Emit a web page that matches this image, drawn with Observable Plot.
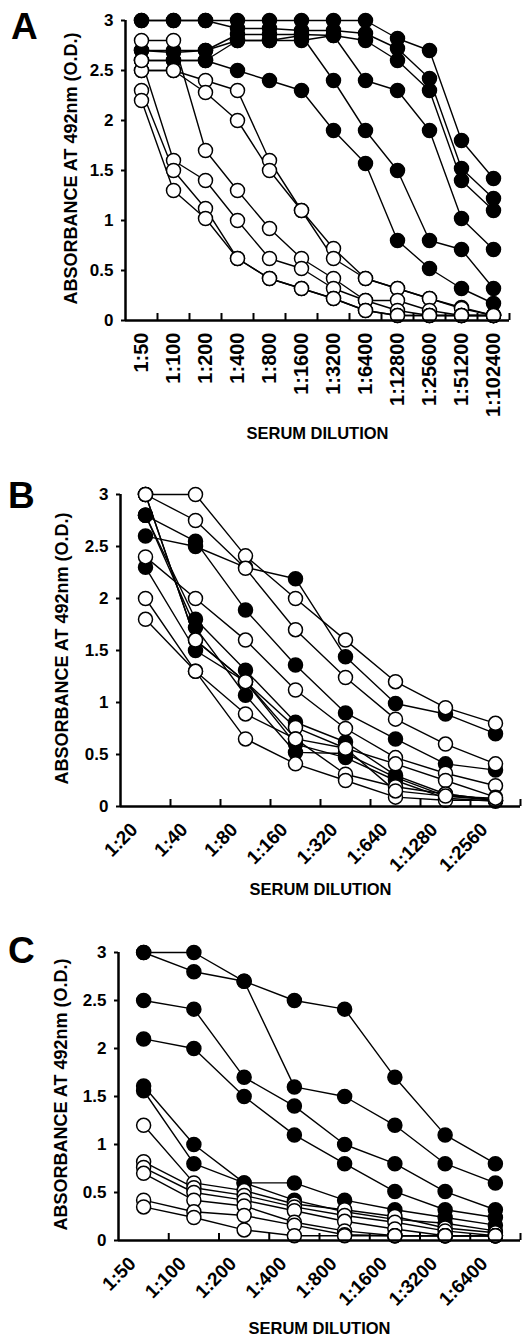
<!DOCTYPE html>
<html>
<head>
<meta charset="utf-8">
<script src="https://cdn.jsdelivr.net/npm/d3@7"></script>
<script src="https://cdn.jsdelivr.net/npm/@observablehq/plot@0.6"></script>
<style>
  html, body { margin: 0; padding: 0; background: #fff; overflow: hidden; }
  #wrap { position: relative; width: 522px; height: 1344px; font-family: "Liberation Sans", Arial, Helvetica, sans-serif; font-weight: bold; }
  .panel { position: absolute; left: 0; }
  .letter { position: absolute; font-size: 37px; font-weight: bold; line-height: 1; }
</style>
</head>
<body>
<div id="wrap"></div>
<script>
// ---------- Panel A ----------
const catsA = ["1:50","1:100","1:200","1:400","1:800","1:1600","1:3200","1:6400","1:12800","1:25600","1:51200","1:102400"];
const aFilled1 = [3.0, 3.0, 3.0, 3.0, 3.0, 3.0, 3.0, 3.0, 2.82, 2.7, 1.8, 1.42];
const aFilled2 = [3.0, 3.0, 3.0, 2.92, 2.92, 2.9, 2.9, 2.87, 2.72, 2.42, 1.52, 1.22];
const aFilled3 = [2.7, 2.7, 2.7, 2.86, 2.86, 2.86, 2.85, 2.8, 2.6, 2.3, 1.4, 1.1];
const aFilled4 = [2.7, 2.68, 2.7, 2.8, 2.8, 2.8, 2.85, 2.4, 2.3, 1.9, 1.02, 0.71];
const aFilled5 = [2.6, 2.6, 2.6, 2.8, 2.8, 2.85, 2.4, 1.9, 1.5, 0.8, 0.71, 0.32];
const aFilled6 = [2.6, 2.6, 2.6, 2.5, 2.4, 2.3, 1.9, 1.57, 0.8, 0.52, 0.32, 0.17];
const aOpen1 = [2.5, 2.5, 2.4, 2.3, 1.6, 1.1, 0.72, 0.42, 0.32, 0.22, 0.13, 0.05];
const aOpen2 = [2.5, 2.5, 2.28, 2.0, 1.5, 1.1, 0.62, 0.42, 0.32, 0.22, 0.12, 0.05];
const aOpen3 = [2.8, 2.8, 1.7, 1.3, 0.92, 0.62, 0.42, 0.2, 0.2, 0.1, 0.05, 0.05];
const aOpen4 = [2.6, 1.6, 1.4, 1.0, 0.62, 0.52, 0.32, 0.2, 0.1, 0.05, 0.05, 0.05];
const aOpen5 = [2.3, 1.5, 1.12, 0.62, 0.42, 0.32, 0.22, 0.1, 0.05, 0.05, 0.05, 0.05];
const aOpen6 = [2.2, 1.3, 1.02, 0.62, 0.42, 0.32, 0.22, 0.1, 0.05, 0.05, 0.05, 0.05];

// ---------- Panel B ----------
const catsB = ["1:20","1:40","1:80","1:160","1:320","1:640","1:1280","1:2560"];
const bFilled1 = [2.6, 2.5, 2.3, 2.19, 1.44, 0.99, 0.89, 0.70];
const bFilled2 = [2.8, 2.55, 1.89, 1.36, 0.90, 0.65, 0.41, 0.35];
const bFilled3 = [2.8, 1.8, 1.31, 0.81, 0.62, 0.30, 0.12, 0.06];
const bFilled4 = [2.8, 1.72, 1.07, 0.52, 0.51, 0.28, 0.1, 0.06];
const bFilled5 = [2.3, 1.5, 1.2, 0.6, 0.47, 0.25, 0.08, 0.05];
const bOpen1 = [3.0, 3.0, 2.41, 2.0, 1.6, 1.2, 0.95, 0.8];
const bOpen2 = [3.0, 2.75, 2.29, 1.7, 1.24, 0.84, 0.6, 0.41];
const bOpen3 = [2.4, 2.0, 1.6, 1.12, 0.75, 0.47, 0.32, 0.2];
const bOpen4 = [3.0, 1.6, 1.2, 0.76, 0.56, 0.41, 0.25, 0.09];
const bOpen5 = [2.0, 1.3, 0.89, 0.65, 0.31, 0.19, 0.12, 0.06];
const bOpen6 = [1.8, 1.3, 0.65, 0.41, 0.25, 0.09, 0.06, 0.06];
const bOpen7 = [3.0, 1.6, 1.2, 0.65, 0.56, 0.15, 0.1, 0.08];

// ---------- Panel C ----------
const catsC = ["1:50","1:100","1:200","1:400","1:800","1:1600","1:3200","1:6400"];
const cFilled1 = [3.0, 3.0, 2.7, 2.5, 2.41, 1.7, 1.1, 0.8];
const cFilled2 = [3.0, 2.8, 2.7, 1.6, 1.5, 1.2, 0.8, 0.6];
const cFilled3 = [2.5, 2.41, 1.7, 1.4, 1.0, 0.8, 0.51, 0.32];
const cFilled4 = [2.1, 2.0, 1.5, 1.1, 0.8, 0.51, 0.32, 0.24];
const cFilled5 = [1.61, 1.0, 0.6, 0.6, 0.42, 0.32, 0.24, 0.16];
const cFilled6 = [1.56, 0.8, 0.6, 0.42, 0.3, 0.22, 0.18, 0.1];
const cOpen1 = [1.2, 0.6, 0.52, 0.38, 0.32, 0.25, 0.13, 0.08];
const cOpen2 = [0.82, 0.55, 0.47, 0.35, 0.26, 0.19, 0.1, 0.05];
const cOpen3 = [0.76, 0.5, 0.42, 0.31, 0.2, 0.12, 0.05, 0.05];
const cOpen4 = [0.7, 0.42, 0.36, 0.19, 0.1, 0.05, 0.05, 0.05];
const cOpen5 = [0.42, 0.3, 0.26, 0.16, 0.06, 0.05, 0.05, 0.05];
const cOpen6 = [0.35, 0.24, 0.11, 0.05, 0.05, 0.05, 0.05, 0.05];

const yTicks = [0, 0.5, 1, 1.5, 2, 2.5, 3];
const yTitle = "ABSORBANCE AT 492nm (O.D.)";
const xTitle = "SERUM DILUTION";
const FONT = '"Liberation Sans", Arial, Helvetica, sans-serif';

function toRows(filled, open) {
  const out = [];
  filled.forEach((s, k) => s.forEach((v, i) => out.push({i, v, s: "f" + k, filled: true})));
  open.forEach((s, k) => s.forEach((v, i) => out.push({i, v, s: "o" + k, filled: false})));
  return out;
}

function panel(o) {
  const data = toRows(o.filled, o.open);
  const n = o.cats.length;
  const centers = d3.range(n).map(i => i + 0.5);
  const bounds = d3.range(1, n + 1);
  const xp = d => d.i + 0.5;
  return Plot.plot({
    width: 522,
    height: o.height,
    marginTop: o.marginTop,
    marginBottom: o.marginBottom,
    marginLeft: o.marginLeft,
    marginRight: o.marginRight,
    style: {fontFamily: FONT, fontWeight: "bold", background: "white", color: "black", overflow: "visible"},
    x: {domain: [0, n], axis: null},
    y: {domain: [0, 3], axis: null},
    marks: [
      Plot.axisY(yTicks, {anchor: "left", tickSize: 4, tickPadding: 8, strokeWidth: 2, fontSize: 17, fontWeight: "bold", tickFormat: d => String(d), label: null}),
      Plot.axisX(centers, {anchor: "bottom", tickSize: 0, tickPadding: o.tickPadX, dx: o.tickDx, tickRotate: o.rotate, fontSize: o.xFont, fontWeight: "bold", tickFormat: d => o.cats[Math.floor(d)], label: null}),
      Plot.axisX(bounds, {anchor: "bottom", tickSize: 7, dy: -7, strokeWidth: 2, tickFormat: () => "", label: null}),
      Plot.line(data, {x: xp, y: "v", z: "s", stroke: "black", strokeWidth: 1.4}),
      Plot.dot(data.filter(d => d.filled), {x: xp, y: "v", r: 7, fill: "black", stroke: "black", strokeWidth: 1.5}),
      Plot.dot(data.filter(d => !d.filled), {x: xp, y: "v", r: 7, fill: "white", stroke: "black", strokeWidth: 1.5}),
      Plot.ruleX([0], {stroke: "black", strokeWidth: 2.5}),
      Plot.ruleY([0], {stroke: "black", strokeWidth: 2.5}),
      Plot.text([xTitle], {text: d => d, frameAnchor: "bottom", textAnchor: "middle", dy: o.xTitleDy, fontSize: 16.5, fontWeight: "bold"}),
      Plot.text([yTitle], {text: d => d, frameAnchor: "left", textAnchor: "middle", rotate: -90, dx: o.yTitleDx, dy: o.yTitleDy, fontSize: 18, fontWeight: "bold"})
    ]
  });
}

const wrap = document.getElementById("wrap");
function place(node, top) {
  node.classList.add("panel");
  node.style.top = top + "px";
  wrap.appendChild(node);
}
function letter(t, left, top) {
  const d = document.createElement("div");
  d.className = "letter";
  d.textContent = t;
  d.style.left = left + "px";
  d.style.top = top + "px";
  wrap.appendChild(d);
}

place(panel({
  cats: catsA,
  filled: [aFilled1, aFilled2, aFilled3, aFilled4, aFilled5, aFilled6],
  open: [aOpen1, aOpen2, aOpen3, aOpen4, aOpen5, aOpen6],
  height: 465, marginTop: 20, marginBottom: 145, marginLeft: 125, marginRight: 13,
  rotate: -90, xFont: 20, tickPadX: 12, tickDx: 0, xTitleDy: 118, yTitleDx: -54, yTitleDy: -2
}), 0);

place(panel({
  cats: catsB,
  filled: [bFilled1, bFilled2, bFilled3, bFilled4, bFilled5],
  open: [bOpen1, bOpen2, bOpen3, bOpen4, bOpen5, bOpen6, bOpen7],
  height: 450, marginTop: 34, marginBottom: 104, marginLeft: 120, marginRight: 2,
  rotate: -45, xFont: 19, tickPadX: 20, tickDx: -11, xTitleDy: 88, yTitleDx: -58, yTitleDy: -2
}), 460);

place(panel({
  cats: catsC,
  filled: [cFilled1, cFilled2, cFilled3, cFilled4, cFilled5, cFilled6],
  open: [cOpen1, cOpen2, cOpen3, cOpen4, cOpen5, cOpen6],
  height: 434, marginTop: 42, marginBottom: 104, marginLeft: 118, marginRight: 2,
  rotate: -45, xFont: 19, tickPadX: 20, tickDx: -11, xTitleDy: 93, yTitleDx: -57, yTitleDy: -2
}), 910);

letter("A", 11, 8);
letter("B", 8, 477);
letter("C", 8, 932);
</script>
</body>
</html>
